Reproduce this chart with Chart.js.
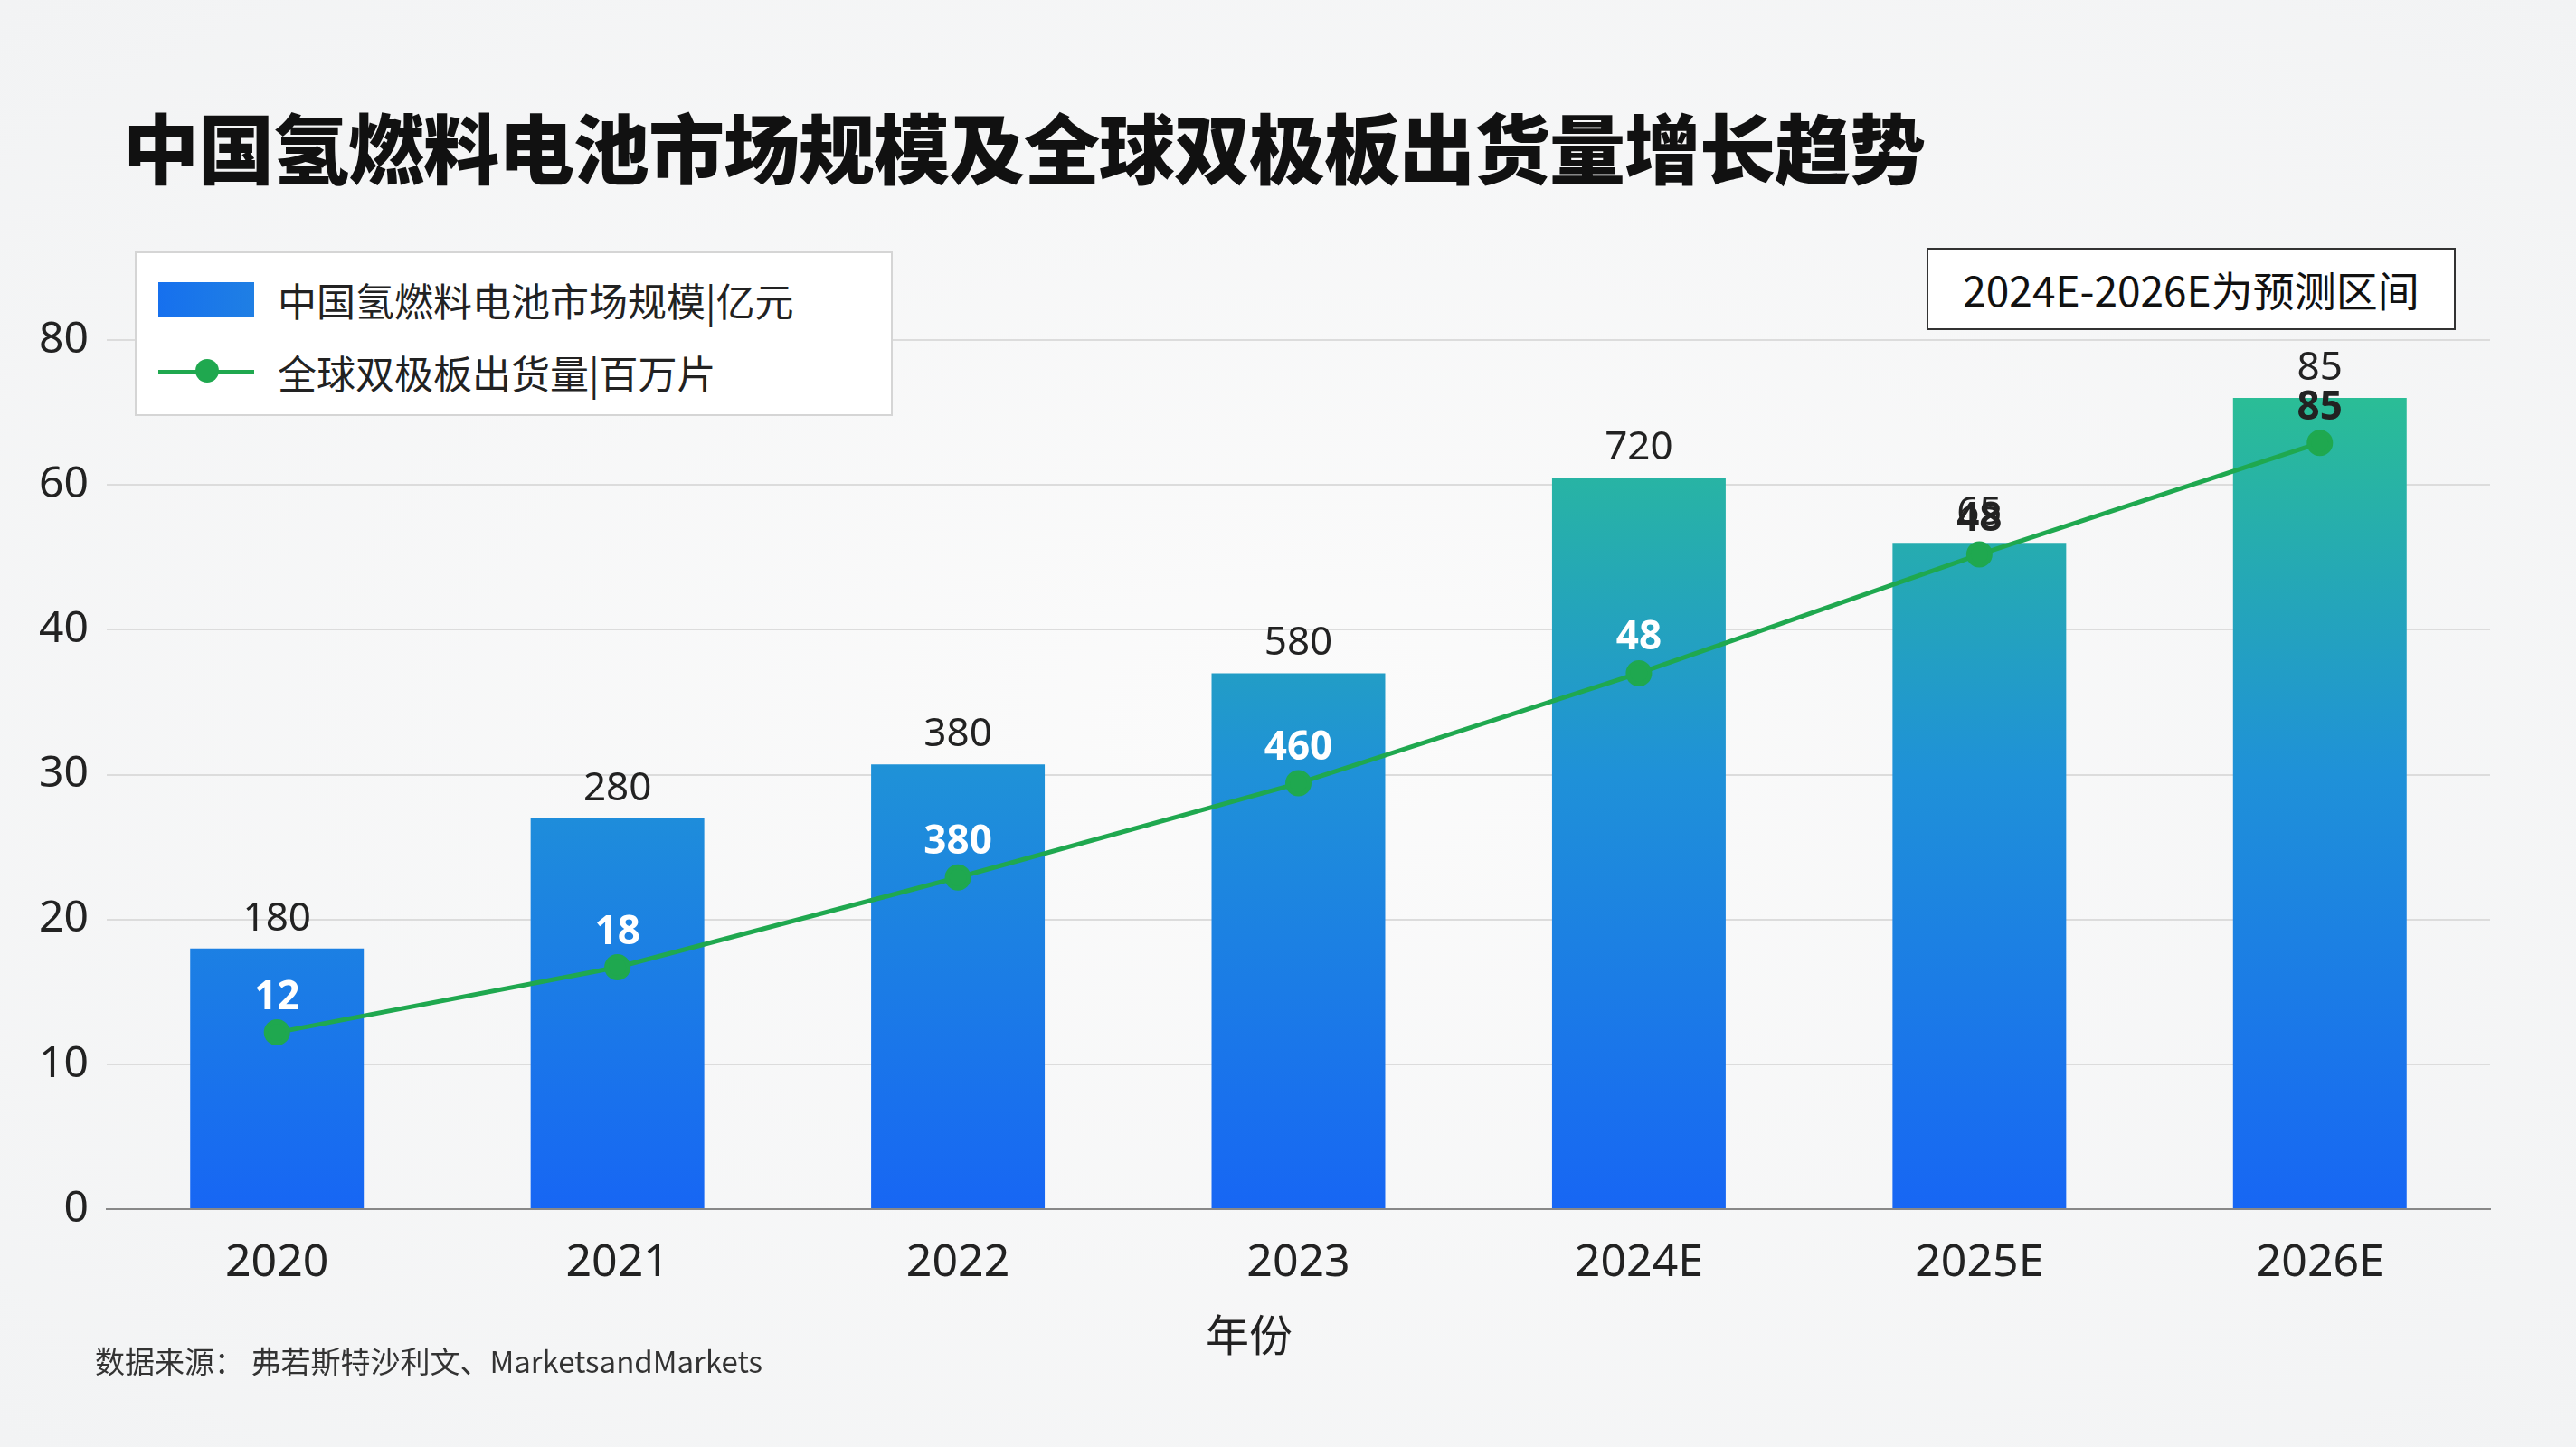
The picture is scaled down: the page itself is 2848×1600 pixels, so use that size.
<!DOCTYPE html>
<html>
<head>
<meta charset="utf-8">
<script src="https://cdn.jsdelivr.net/npm/chart.js@4.4.1/dist/chart.umd.min.js"></script>
<style>
  html, body { margin: 0; padding: 0; }
  body { width: 2848px; height: 1600px; position: relative; overflow: hidden;
         background: radial-gradient(ellipse at center, #fbfbfb 0%, #f2f3f4 100%);
         font-family: "Noto Sans CJK SC", "Noto Sans", sans-serif; }
  #wrap { position: absolute; left: 0; top: 0; width: 2848px; height: 1600px; }
  .title { position: absolute; left: 136px; top: 100px; font-size: 84px; font-weight: 900; color: #111; letter-spacing: -1px; }
  .legend { position: absolute; left: 149px; top: 278px; width: 838px; height: 182px; background: #fff;
            border: 2px solid #d5d5d5; box-sizing: border-box; }
  .legend .row { position: absolute; left: 24px; display: flex; align-items: center; font-size: 43px; color: #222; }
  .sw { width: 106px; height: 38px; background: linear-gradient(90deg, #1670ee, #1f7fe4); margin-right: 26px; }
  .ln { width: 106px; height: 5px; background: #1fa84f; margin-right: 26px; position: relative; }
  .ln::after { content: ""; position: absolute; left: 41px; top: -12px; width: 26px; height: 26px; border-radius: 50%; background: #1fa84f; }
  .note { position: absolute; left: 2130px; top: 274px; width: 585px; height: 91px; border: 2px solid #333; box-sizing: border-box;
          background: #fff; font-size: 46px; color: #111; text-align: center; line-height: 87px; }
  .xt { position: absolute; left: 1333px; top: 1438px; font-size: 48px; color: #222; }
  .src { position: absolute; left: 105px; top: 1480px; font-size: 33px; color: #333; }
</style>
</head>
<body>
<div id="wrap"><canvas id="c" width="2848" height="1600"></canvas></div>
<div class="title">中国氢燃料电池市场规模及全球双极板出货量增长趋势</div>
<div class="legend">
  <div class="row" style="top:20px"><div class="sw"></div>中国氢燃料电池市场规模|亿元</div>
  <div class="row" style="top:100px"><div class="ln"></div>全球双极板出货量|百万片</div>
</div>
<div class="note">2024E-2026E为预测区间</div>
<div class="xt">年份</div>
<div class="src">数据来源：  弗若斯特沙利文、MarketsandMarkets</div>
<script>
const years = ["2020", "2021", "2022", "2023", "2024E", "2025E", "2026E"];
const tickValues = [0, 10, 20, 30, 40, 60, 80];
// values as read against the (uneven) axis
const marketHeights = [18, 27, 30.7, 37, 61, 52, 72];
const shipmentHeights = [12.2, 16.7, 22.9, 29.4, 37, 50.4, 65.8];
const marketLabels = ["180", "280", "380", "580", "720", "65", "85"];
const shipmentLabels = ["12", "18", "380", "460", "48", "48", "85"];

// map a value onto evenly spaced tick positions
function toAxis(v) {
  for (let i = 1; i < tickValues.length; i++) {
    if (v <= tickValues[i]) {
      const a = tickValues[i - 1], b = tickValues[i];
      return i - 1 + (v - a) / (b - a);
    }
  }
  return tickValues.length - 1;
}

const labelPlugin = {
  id: "labels",
  afterDatasetsDraw(chart) {
    const ctx = chart.ctx;
    const bars = chart.getDatasetMeta(1).data;
    const pts = chart.getDatasetMeta(0).data;
    ctx.save();
    ctx.textAlign = "center";
    ctx.textBaseline = "alphabetic";
    ctx.font = "44px 'Noto Sans', sans-serif";
    ctx.fillStyle = "#222";
    bars.forEach((b, i) => ctx.fillText(marketLabels[i], b.x, b.y - 20));
    ctx.font = "bold 44px 'Noto Sans', sans-serif";
    pts.forEach((p, i) => {
      const y = p.y - 26;
      ctx.fillStyle = (y - 30 > bars[i].y) ? "#fff" : "#222";
      ctx.fillText(shipmentLabels[i], p.x, y);
    });
    ctx.restore();
  }
};

new Chart(document.getElementById("c"), {
  data: {
    labels: years,
    datasets: [
      {
        type: "line",
        data: shipmentHeights.map(toAxis),
        borderColor: "#1fa84f",
        backgroundColor: "#1fa84f",
        borderWidth: 5,
        pointRadius: 12,
        pointHoverRadius: 12,
        tension: 0,
        order: 0
      },
      {
        type: "bar",
        data: marketHeights.map(toAxis),
        backgroundColor: ctx => {
          const area = ctx.chart.chartArea;
          if (!area) return "#1a74ea";
          const g = ctx.chart.ctx.createLinearGradient(0, area.bottom, 0, area.top);
          g.addColorStop(0, "#1766f4");
          g.addColorStop(0.5, "#1f91d8");
          g.addColorStop(1, "#2cc48c");
          return g;
        },
        categoryPercentage: 1,
        barPercentage: 0.51,
        order: 1
      }
    ]
  },
  options: {
    responsive: false,
    animation: false,
    layout: { padding: { top: 376, left: 10, right: 95, bottom: 0 } },
    plugins: { legend: { display: false }, tooltip: { enabled: false } },
    scales: {
      x: {
        grid: { display: false },
        border: { color: "#888", width: 2 },
        ticks: { color: "#222", font: { size: 50, family: "'Noto Sans', sans-serif" }, padding: 22 },
        afterFit: s => { s.height = 263; }
      },
      y: {
        min: 0, max: 6,
        afterBuildTicks: s => { s.ticks = tickValues.map((v, i) => ({ value: i })); },
        grid: { color: "#dcdcdc", lineWidth: 2, drawTicks: false },
        border: { display: false },
        ticks: {
          color: "#222", font: { size: 48, family: "'Noto Sans', sans-serif" }, padding: 20,
          callback: (v) => String(tickValues[v])
        },
        afterFit: s => { s.width = 108; }
      }
    }
  },
  plugins: [labelPlugin]
});
</script>
</body>
</html>
